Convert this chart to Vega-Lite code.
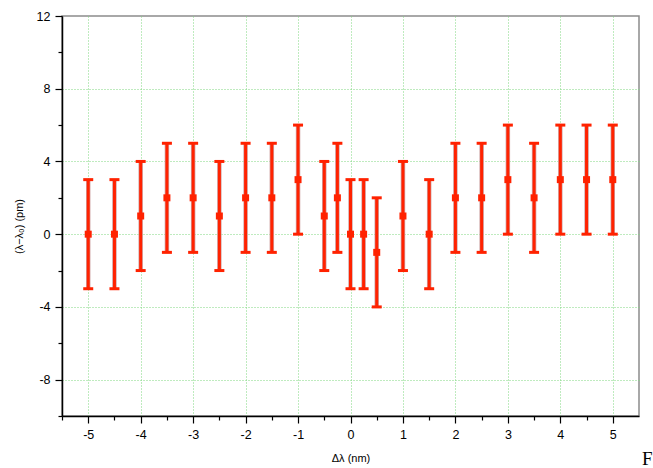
{
  "$schema": "https://vega.github.io/schema/vega-lite/v6.json",
  "width": 577,
  "height": 400,
  "autosize": {"type": "none"},
  "padding": {"left": 62, "top": 16, "right": 14, "bottom": 52},
  "background": "white",
  "config": {
    "view": {"stroke": "#8c8c8c", "strokeWidth": 1.5},
    "axis": {
      "labelFont": "Liberation Sans",
      "titleFont": "Liberation Sans",
      "labelColor": "black",
      "titleColor": "black",
      "tickColor": "black",
      "domainColor": "black",
      "labelExpr": "replace(datum.label, '−', '-')"
    }
  },
  "title": {
    "text": "F",
    "orient": "bottom",
    "anchor": "end",
    "align": "left",
    "dx": 3,
    "offset": -14,
    "frame": "group",
    "font": "Liberation Serif",
    "fontSize": 19,
    "fontWeight": "normal",
    "color": "black"
  },
  "data": {
    "values": [
      {"x": -5, "y": 0, "lo": -3, "hi": 3},
      {"x": -4.5, "y": 0, "lo": -3, "hi": 3},
      {"x": -4, "y": 1, "lo": -2, "hi": 4},
      {"x": -3.5, "y": 2, "lo": -1, "hi": 5},
      {"x": -3, "y": 2, "lo": -1, "hi": 5},
      {"x": -2.5, "y": 1, "lo": -2, "hi": 4},
      {"x": -2, "y": 2, "lo": -1, "hi": 5},
      {"x": -1.5, "y": 2, "lo": -1, "hi": 5},
      {"x": -1, "y": 3, "lo": 0, "hi": 6},
      {"x": -0.5, "y": 1, "lo": -2, "hi": 4},
      {"x": -0.25, "y": 2, "lo": -1, "hi": 5},
      {"x": 0, "y": 0, "lo": -3, "hi": 3},
      {"x": 0.25, "y": 0, "lo": -3, "hi": 3},
      {"x": 0.5, "y": -1, "lo": -4, "hi": 2},
      {"x": 1, "y": 1, "lo": -2, "hi": 4},
      {"x": 1.5, "y": 0, "lo": -3, "hi": 3},
      {"x": 2, "y": 2, "lo": -1, "hi": 5},
      {"x": 2.5, "y": 2, "lo": -1, "hi": 5},
      {"x": 3, "y": 3, "lo": 0, "hi": 6},
      {"x": 3.5, "y": 2, "lo": -1, "hi": 5},
      {"x": 4, "y": 3, "lo": 0, "hi": 6},
      {"x": 4.5, "y": 3, "lo": 0, "hi": 6},
      {"x": 5, "y": 3, "lo": 0, "hi": 6}
    ]
  },
  "layer": [
    {
      "mark": {"type": "rule", "color": "#d0a8a8", "strokeWidth": 4.5},
      "encoding": {
        "x": {
          "field": "x", "type": "quantitative",
          "scale": {"domain": [-5.5, 5.5], "nice": false, "zero": false},
          "axis": {
            "orient": "bottom",
            "values": [-5, -4, -3, -2, -1, 0, 1, 2, 3, 4, 5],
            "grid": true, "gridColor": "#7fd67f", "gridDash": [1, 2], "gridWidth": 1,
            "tickSize": 7, "tickWidth": 1.2, "domainWidth": 1.5,
            "labelFontSize": 12.5, "labelPadding": 5,
            "title": "Δλ (nm)", "titleFontSize": 11, "titleFontWeight": "normal", "titlePadding": 12
          }
        },
        "y": {
          "field": "lo", "type": "quantitative",
          "scale": {"domain": [-10, 12], "nice": false, "zero": false},
          "axis": {
            "orient": "left",
            "values": [-8, -4, 0, 4, 8, 12],
            "grid": false,
            "tickSize": 7, "tickWidth": 1.2, "domainWidth": 1.5,
            "labelFontSize": 12.5, "labelPadding": 5,
            "title": "(λ−λ₀) (pm)", "titleFontSize": 11, "titleFontWeight": "normal", "titlePadding": 12, "titleY": 210
          }
        },
        "y2": {"field": "hi"}
      }
    },
    {
      "mark": {"type": "rule", "color": "#ff2200", "strokeWidth": 3},
      "encoding": {
        "x": {
          "field": "x", "type": "quantitative",
          "axis": {
            "orient": "bottom",
            "values": [-5.5, -4.5, -3.5, -2.5, -1.5, -0.5, 0.5, 1.5, 2.5, 3.5, 4.5],
            "labels": false, "domain": false, "grid": false, "tickSize": 4, "tickWidth": 1.2, "title": null
          }
        },
        "y": {
          "field": "lo", "type": "quantitative",
          "axis": {
            "orient": "left",
            "values": [-10, -6, -2, 2, 6, 10],
            "labels": false, "domain": false, "grid": false, "tickSize": 4, "tickWidth": 1.2, "title": null
          }
        },
        "y2": {"field": "hi"}
      }
    },
    {
      "mark": {"type": "tick", "orient": "horizontal", "color": "#ff2200", "thickness": 3, "size": 10, "opacity": 1},
      "encoding": {
        "x": {"field": "x", "type": "quantitative", "axis": null},
        "y": {
          "field": "hi", "type": "quantitative",
          "axis": {
            "orient": "left",
            "values": [-8, -4, 0, 4, 8],
            "labels": false, "domain": false, "ticks": false,
            "grid": true, "gridColor": "#7fd67f", "gridDash": [1, 2], "gridWidth": 1, "title": null
          }
        }
      }
    },
    {
      "mark": {"type": "tick", "orient": "horizontal", "color": "#ff2200", "thickness": 3, "size": 10, "opacity": 1},
      "encoding": {
        "x": {"field": "x", "type": "quantitative", "axis": null},
        "y": {"field": "lo", "type": "quantitative", "axis": null}
      }
    },
    {
      "mark": {"type": "square", "size": 49, "color": "#ff2200", "opacity": 1, "filled": true},
      "encoding": {
        "x": {"field": "x", "type": "quantitative", "axis": null},
        "y": {"field": "y", "type": "quantitative", "axis": null}
      }
    }
  ],
  "resolve": {"axis": {"x": "independent", "y": "independent"}}
}
